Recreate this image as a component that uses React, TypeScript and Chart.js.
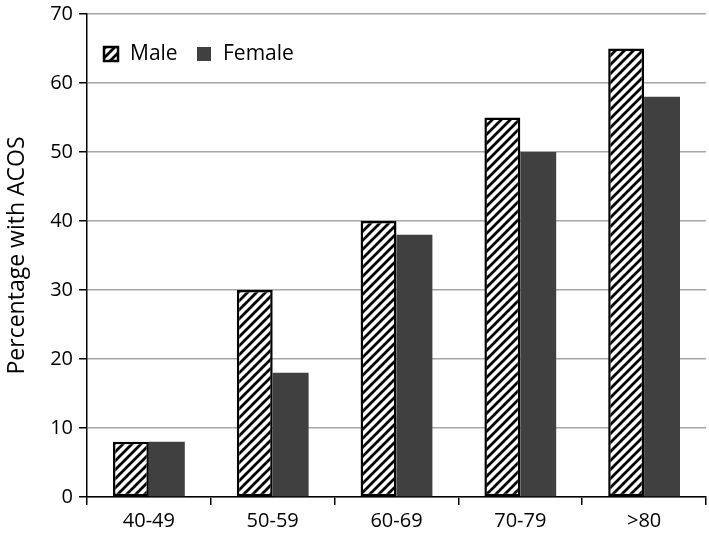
import React, { useEffect, useRef } from "react";
import { Chart, registerables } from "chart.js";

Chart.register(...registerables);

const categories = ["40-49", "50-59", "60-69", "70-79", ">80"];
const maleValues = [8, 30, 40, 55, 65];
const femaleValues = [8, 18, 38, 50, 58];
const yTicks = [0, 10, 20, 30, 40, 50, 60, 70];

const FONT = "'Open Sans', 'Noto Sans', sans-serif";
const FEMALE_COLOR = "#404040";

function makeHatch(): CanvasPattern | string {
  const size = 9;
  const c = document.createElement("canvas");
  c.width = size;
  c.height = size;
  const ctx = c.getContext("2d");
  if (!ctx) return "#fff";
  ctx.fillStyle = "#ffffff";
  ctx.fillRect(0, 0, size, size);
  ctx.strokeStyle = "#000000";
  ctx.lineWidth = 2.8;
  ctx.beginPath();
  ctx.moveTo(-size, 2 * size);
  ctx.lineTo(2 * size, -size);
  ctx.moveTo(-2 * size, 2 * size);
  ctx.lineTo(size, -size);
  ctx.moveTo(0, 2 * size);
  ctx.lineTo(3 * size, -size);
  ctx.stroke();
  return ctx.createPattern(c, "repeat") || "#fff";
}

export default function App() {
  const ref = useRef<HTMLCanvasElement | null>(null);

  useEffect(() => {
    if (!ref.current) return;
    const hatch = makeHatch();

    const legendPlugin = {
      id: "insideLegend",
      afterDraw(chart: any) {
        const ctx = chart.ctx;
        ctx.save();
        const y = 54;
        ctx.fillStyle = hatch;
        ctx.fillRect(104, y - 7, 14, 14);
        ctx.strokeStyle = "#000";
        ctx.lineWidth = 2.5;
        ctx.strokeRect(104, y - 7, 14, 14);
        ctx.fillStyle = "#000";
        ctx.font = `21px ${FONT}`;
        ctx.textBaseline = "middle";
        ctx.textAlign = "left";
        ctx.fillText("Male", 130, y);
        ctx.fillStyle = FEMALE_COLOR;
        ctx.fillRect(197, y - 7, 14, 14);
        ctx.fillStyle = "#000";
        ctx.fillText("Female", 223, y);
        ctx.restore();
      },
    };

    const chart = new Chart(ref.current, {
      type: "bar",
      data: {
        labels: categories,
        datasets: [
          {
            label: "Male",
            data: maleValues,
            backgroundColor: hatch as any,
            borderColor: "#000",
            borderWidth: 2.5,
            borderSkipped: false,
          },
          {
            label: "Female",
            data: femaleValues,
            backgroundColor: FEMALE_COLOR,
            borderWidth: 0,
          },
        ],
      },
      options: {
        animation: false,
        responsive: false,
        maintainAspectRatio: false,
        layout: { autoPadding: false, padding: { top: 14, right: 3, left: 0, bottom: 0 } },
        datasets: {
          bar: { categoryPercentage: 0.58, barPercentage: 1 },
        },
        plugins: {
          legend: { display: false },
          tooltip: { enabled: false },
        },
        scales: {
          x: {
            grid: {
              display: true,
              drawOnChartArea: false,
              offset: true,
              tickLength: 8,
              tickColor: "#000",
              lineWidth: 1.5,
            },
            border: { color: "#000", width: 1.5 },
            ticks: {
              color: "#000",
              font: { family: FONT, size: 20 },
              padding: 4,
            },
            afterFit(scale: any) {
              scale.height = 39;
              scale.paddingLeft = 0;
              scale.paddingRight = 0;
            },
          },
          y: {
            min: 0,
            max: 70,
            afterBuildTicks(scale: any) {
              scale.ticks = yTicks.map((v) => ({ value: v }));
            },
            grid: {
              color: "#a6a6a6",
              lineWidth: 1.5,
              tickLength: 8,
              tickColor: "#000",
            },
            border: { color: "#000", width: 1.5 },
            ticks: {
              color: "#000",
              font: { family: FONT, size: 20 },
              padding: 6,
            },
            title: {
              display: true,
              text: "Percentage with ACOS",
              color: "#000",
              font: { family: FONT, size: 23 },
              padding: { top: 4, bottom: 4 },
            },
            afterFit(scale: any) {
              scale.width = 87;
              scale.paddingTop = 0;
              scale.paddingBottom = 0;
            },
          },
        },
      },
      plugins: [legendPlugin],
    });
    return () => chart.destroy();
  }, []);

  return (
    <div style={{ position: "absolute", left: 0, top: 0, width: 709, height: 536, background: "#fff" }}>
      <canvas ref={ref} width={709} height={536} style={{ width: 709, height: 536 }} />
    </div>
  );
}
